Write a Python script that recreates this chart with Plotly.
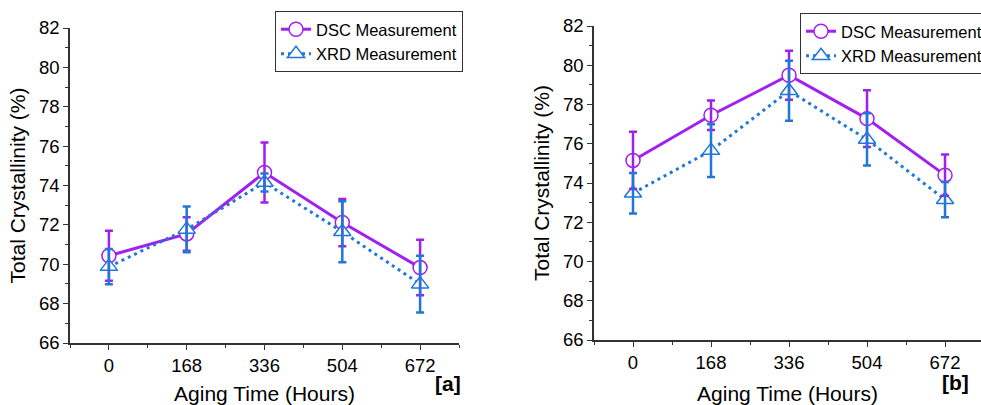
import plotly.graph_objects as go

aging_hours = [0, 168, 336, 504, 672]
tick_labels = ["0", "168", "336", "504", "672"]

# Panel [a]
dsc_a = [70.43, 71.54, 74.66, 72.12, 69.83]
dsc_a_err = [1.27, 0.85, 1.52, 1.20, 1.41]
xrd_a = [69.88, 71.77, 74.15, 71.65, 68.99]
xrd_a_err = [0.90, 1.16, 0.46, 1.55, 1.44]

# Panel [b]
dsc_b = [75.15, 77.45, 79.49, 77.28, 74.40]
dsc_b_err = [1.46, 0.75, 1.25, 1.45, 1.05]
xrd_b = [73.48, 75.65, 78.70, 76.22, 73.15]
xrd_b_err = [1.03, 1.35, 1.53, 1.33, 0.90]

PURPLE = "#a020f0"
BLUE = "#1f78d8"
FONT = "Liberation Sans, Arial, sans-serif"

fig = go.Figure()

def add_panel(xa, ya, legend, dsc, dsc_err, xrd, xrd_err):
    fig.add_trace(go.Scatter(
        x=aging_hours, y=dsc, mode="lines+markers", name="DSC Measurement",
        xaxis=xa, yaxis=ya, legend=legend,
        line=dict(color=PURPLE, width=3),
        marker=dict(symbol="circle", size=14, color="white",
                    line=dict(color=PURPLE, width=1.5)),
    ))
    fig.add_trace(go.Scatter(
        x=aging_hours, y=xrd, mode="lines+markers", name="XRD Measurement",
        xaxis=xa, yaxis=ya, legend=legend,
        line=dict(color=BLUE, width=3, dash="3px,4px"),
        marker=dict(symbol="triangle-up", size=15, color="white",
                    line=dict(color=BLUE, width=1.5)),
    ))
    # error bars drawn above the markers
    fig.add_trace(go.Scatter(
        x=aging_hours, y=dsc, mode="markers", showlegend=False, hoverinfo="skip",
        xaxis=xa, yaxis=ya,
        marker=dict(size=1, color="rgba(0,0,0,0)"),
        error_y=dict(type="data", array=dsc_err, visible=True,
                     color=PURPLE, thickness=2.5, width=4),
    ))
    fig.add_trace(go.Scatter(
        x=aging_hours, y=xrd, mode="markers", showlegend=False, hoverinfo="skip",
        xaxis=xa, yaxis=ya,
        marker=dict(size=1, color="rgba(0,0,0,0)"),
        error_y=dict(type="data", array=xrd_err, visible=True,
                     color=BLUE, thickness=2.5, width=4),
    ))

add_panel("x", "y", "legend", dsc_a, dsc_a_err, xrd_a, xrd_a_err)
add_panel("x2", "y2", "legend2", dsc_b, dsc_b_err, xrd_b, xrd_b_err)

W, H = 981, 405

axis_common = dict(
    showline=True, linecolor="#333333", linewidth=1.5, mirror=False,
    showgrid=False, zeroline=False, ticks="outside", ticklen=5, tickwidth=1.2,
    tickcolor="#333333", tickfont=dict(family=FONT, size=18.5, color="black"),
)

xcommon = dict(axis_common, tickmode="array", tickvals=aging_hours, ticktext=tick_labels,
               minor=dict(dtick=84, tick0=0, ticks="outside", ticklen=3, tickcolor="#333333"),
               title=dict(text="Aging Time (Hours)", font=dict(family=FONT, size=21, color="black"),
                          standoff=16))
ycommon = dict(axis_common, range=[66, 82], dtick=2, tick0=66,
               minor=dict(dtick=1, ticks="outside", ticklen=3, tickcolor="#333333"),
               title=dict(text="Total Crystallinity (%)", font=dict(family=FONT, size=21, color="black"),
                          standoff=8))

fig.update_layout(
    width=W, height=H,
    margin=dict(l=0, r=0, t=0, b=0, autoexpand=False),
    paper_bgcolor="white", plot_bgcolor="white",
    font=dict(family=FONT, color="black"),
    xaxis=dict(xcommon, domain=[70 / W, 459 / W], range=[-84, 756], anchor="y"),
    yaxis=dict(ycommon, domain=[1 - 343 / H, 1 - 28 / H], anchor="x"),
    xaxis2=dict(xcommon, domain=[594 / W, 1.0], range=[-84, 749.5], anchor="y2"),
    yaxis2=dict(ycommon, domain=[1 - 340 / H, 1 - 26 / H], anchor="x2"),
    legend=dict(x=275 / W, y=1 - 11 / H, xanchor="left", yanchor="top",
                bordercolor="#333333", borderwidth=1, bgcolor="white",
                font=dict(family=FONT, size=16.5, color="black"),
                tracegroupgap=0, itemwidth=30),
    legend2=dict(x=800 / W, y=1 - 13 / H, xanchor="left", yanchor="top",
                 bordercolor="#333333", borderwidth=1, bgcolor="white",
                 font=dict(family=FONT, size=16.5, color="black"),
                 tracegroupgap=0, itemwidth=30),
    showlegend=True,
    annotations=[
        dict(text="<b>[a]</b>", x=448 / W, y=1 - 397 / H, xref="paper", yref="paper",
             showarrow=False, font=dict(family=FONT, size=21, color="black")),
        dict(text="<b>[b]</b>", x=971 / W, y=1 - 396 / H, xref="paper", yref="paper",
             showarrow=False, font=dict(family=FONT, size=21, color="black")),
    ],
)

fig.write_html("out.html")
